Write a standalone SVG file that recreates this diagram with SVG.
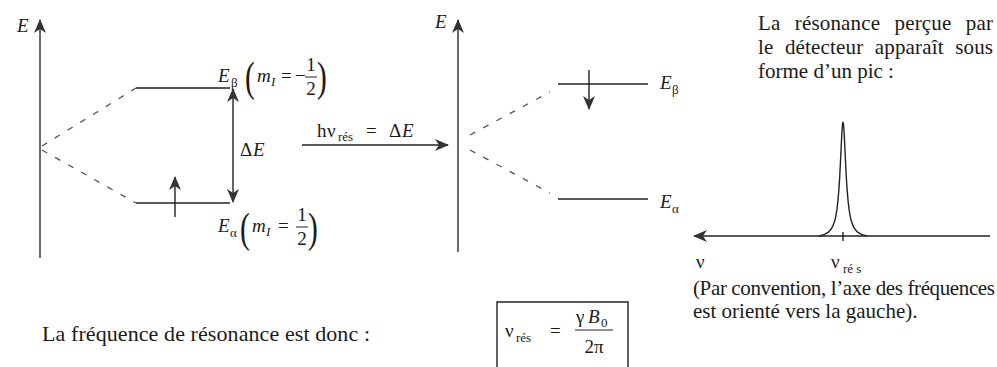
<svg xmlns="http://www.w3.org/2000/svg" width="997" height="367" viewBox="0 0 997 367">
<style>
text{font-family:"Liberation Serif","Times New Roman",serif;fill:#1a1a1a}
.mi{font-style:italic;font-size:19px}
.rm{font-size:19px}
.sub{font-size:13px}
.par{font-size:42px}
.ax{stroke:#444;stroke-width:1.6;fill:none}
.ln{stroke:#222;stroke-width:1.4;fill:none}
.da{stroke:#555;stroke-width:1.3;stroke-dasharray:6 9;fill:none}
.body{font-size:21px}
</style>
<defs>
<marker id="ah" markerUnits="userSpaceOnUse" markerWidth="14" markerHeight="12" viewBox="0 0 14 12" refX="13" refY="6" orient="auto">
<path d="M0,0 L14,6 L0,12 L4,6 z" fill="#333"/>
</marker>
</defs>
<rect width="997" height="367" fill="#fff"/>

<g id="left-diagram">
<g id="left-axis">
<line class="ax" x1="40" y1="258" x2="40" y2="20" marker-end="url(#ah)"/>
<text class="mi" x="17" y="32" font-size="18">E</text>
</g>
<g id="left-beta">
<line class="ln" x1="136" y1="88" x2="230" y2="88"/>
<text class="mi" x="218" y="82">E</text><text class="sub" x="231" y="87">β</text>
<text class="par" transform="translate(245,91) scale(0.7,1)">(</text>
<text class="mi" x="257" y="82">m</text><text class="sub" x="271" y="86" font-style="italic">I</text>
<text class="rm" x="281" y="82">=</text>
<text class="rm" x="295" y="82">−</text>
<text class="rm" x="311" y="71" text-anchor="middle">1</text>
<line x1="305" y1="77" x2="317" y2="77" stroke="#222" stroke-width="1"/>
<text class="rm" x="311" y="95" text-anchor="middle">2</text>
<text class="par" transform="translate(317,91) scale(0.7,1)">)</text>
</g>
<g id="left-alpha">
<line class="ln" x1="136" y1="203" x2="230" y2="203"/>
<text class="mi" x="218" y="232">E</text><text class="sub" x="230" y="237">α</text>
<text class="par" transform="translate(240,242) scale(0.7,1)">(</text>
<text class="mi" x="252" y="232">m</text><text class="sub" x="266" y="236" font-style="italic">I</text>
<text class="rm" x="278" y="232">=</text>
<text class="rm" x="302" y="221" text-anchor="middle">1</text>
<line x1="296" y1="227" x2="308" y2="227" stroke="#222" stroke-width="1"/>
<text class="rm" x="302" y="245" text-anchor="middle">2</text>
<text class="par" transform="translate(308,242) scale(0.7,1)">)</text>
</g>
<g id="left-deltaE">
<text class="rm" x="240" y="156">Δ</text><text class="mi" x="253" y="156">E</text>
</g>
</g>

<g id="right-levels">
<g id="mid-axis">
<line class="ax" x1="458" y1="252" x2="458" y2="20" marker-end="url(#ah)"/>
<text class="mi" x="435" y="28" font-size="18">E</text>
</g>
<g id="mid-beta">
<line class="ln" x1="558" y1="84" x2="648" y2="84"/>
<text class="mi" x="660" y="89">E</text><text class="sub" x="672" y="94">β</text>
</g>
<g id="mid-alpha">
<line class="ln" x1="558" y1="199" x2="648" y2="199"/>
<text class="mi" x="660" y="208">E</text><text class="sub" x="672" y="213">α</text>
</g>
<g id="photon-label">
<text class="rm" x="317" y="137">h</text><text class="rm" x="327" y="137">ν</text><text class="sub" x="338" y="141" font-size="11">rés</text>
<text class="rm" x="366" y="137">=</text>
<text class="rm" x="389" y="137">Δ</text><text class="mi" x="402" y="137">E</text>
</g>
</g>

<g id="connectors">
<line class="da" x1="42" y1="146" x2="136" y2="88"/>
<line class="da" x1="42" y1="150" x2="136" y2="203"/>
<line class="ln" x1="233" y1="146" x2="233" y2="89" marker-end="url(#ah)"/>
<line class="ln" x1="233" y1="146" x2="233" y2="202" marker-end="url(#ah)"/>
<line class="ln" x1="175" y1="217" x2="175" y2="177" marker-end="url(#ah)"/>
<line class="ln" x1="302" y1="145" x2="448" y2="145" marker-end="url(#ah)"/>
<line class="da" x1="470" y1="135" x2="550" y2="92"/>
<line class="da" x1="470" y1="150" x2="550" y2="193"/>
<line class="ln" x1="589" y1="70" x2="589" y2="109" marker-end="url(#ah)"/>
</g>

<g id="spectrum">
<text class="body" x="758" y="30" word-spacing="9" textLength="235" lengthAdjust="spacing">La résonance perçue par</text>
<text class="body" x="758" y="54" word-spacing="6" textLength="235" lengthAdjust="spacing">le détecteur apparaît sous</text>
<text class="body" x="758" y="78">forme d’un pic :</text>
<line class="ln" x1="990" y1="236" x2="694" y2="236" marker-end="url(#ah)"/>
<path class="ln" stroke-width="1.5" d="M819,236 L822,235.3 L825,234.2 L828,232.4 L831,229.3 L833,225.7 L835,219.7 L836,215.1 L837,208.9 L838,200.1 L839,187.9 L839.5,180.2 L840,171.3 L840.5,161.3 L841,150.7 L841.5,140.1 L842,130.8 L842.5,124.4 L843,122 L843.5,124.4 L844,130.8 L844.5,140.1 L845,150.7 L845.5,161.3 L846,171.3 L846.5,180.2 L847,187.9 L848,200.1 L849,208.9 L850,215.1 L851,219.7 L853,225.7 L855,229.3 L858,232.4 L861,234.2 L864,235.3 L867,236"/>
<line class="ln" x1="843" y1="232" x2="843" y2="241"/>
<text class="rm" x="696" y="268">ν</text>
<text class="rm" x="831" y="268">ν</text><text class="sub" x="843" y="273" font-size="11">ré s</text>
<text class="body" x="693" y="295" font-size="20" textLength="302" lengthAdjust="spacing">(Par convention, l’axe des fréquences</text>
<text class="body" x="693" y="318" font-size="20">est orienté vers la gauche).</text>
</g>

<g id="formula">
<text x="42" y="341" font-size="22" textLength="328" lengthAdjust="spacing">La fréquence de résonance est donc :</text>
<path d="M497,372 V302 H628 V372" fill="none" stroke="#222" stroke-width="1.4"/>
<text class="rm" x="505" y="337" font-size="20">ν</text><text class="sub" x="516" y="342" font-size="11">rés</text>
<text class="rm" x="550" y="337" font-size="20">=</text>
<text class="rm" x="576" y="323" font-size="20">γ</text><text class="mi" x="588" y="323" font-size="20">B</text><text class="sub" x="601" y="327" font-size="13">0</text>
<line x1="575" y1="330" x2="613" y2="330" stroke="#222" stroke-width="1"/>
<text class="rm" x="594" y="353" font-size="20" text-anchor="middle">2π</text>
</g>
</svg>
